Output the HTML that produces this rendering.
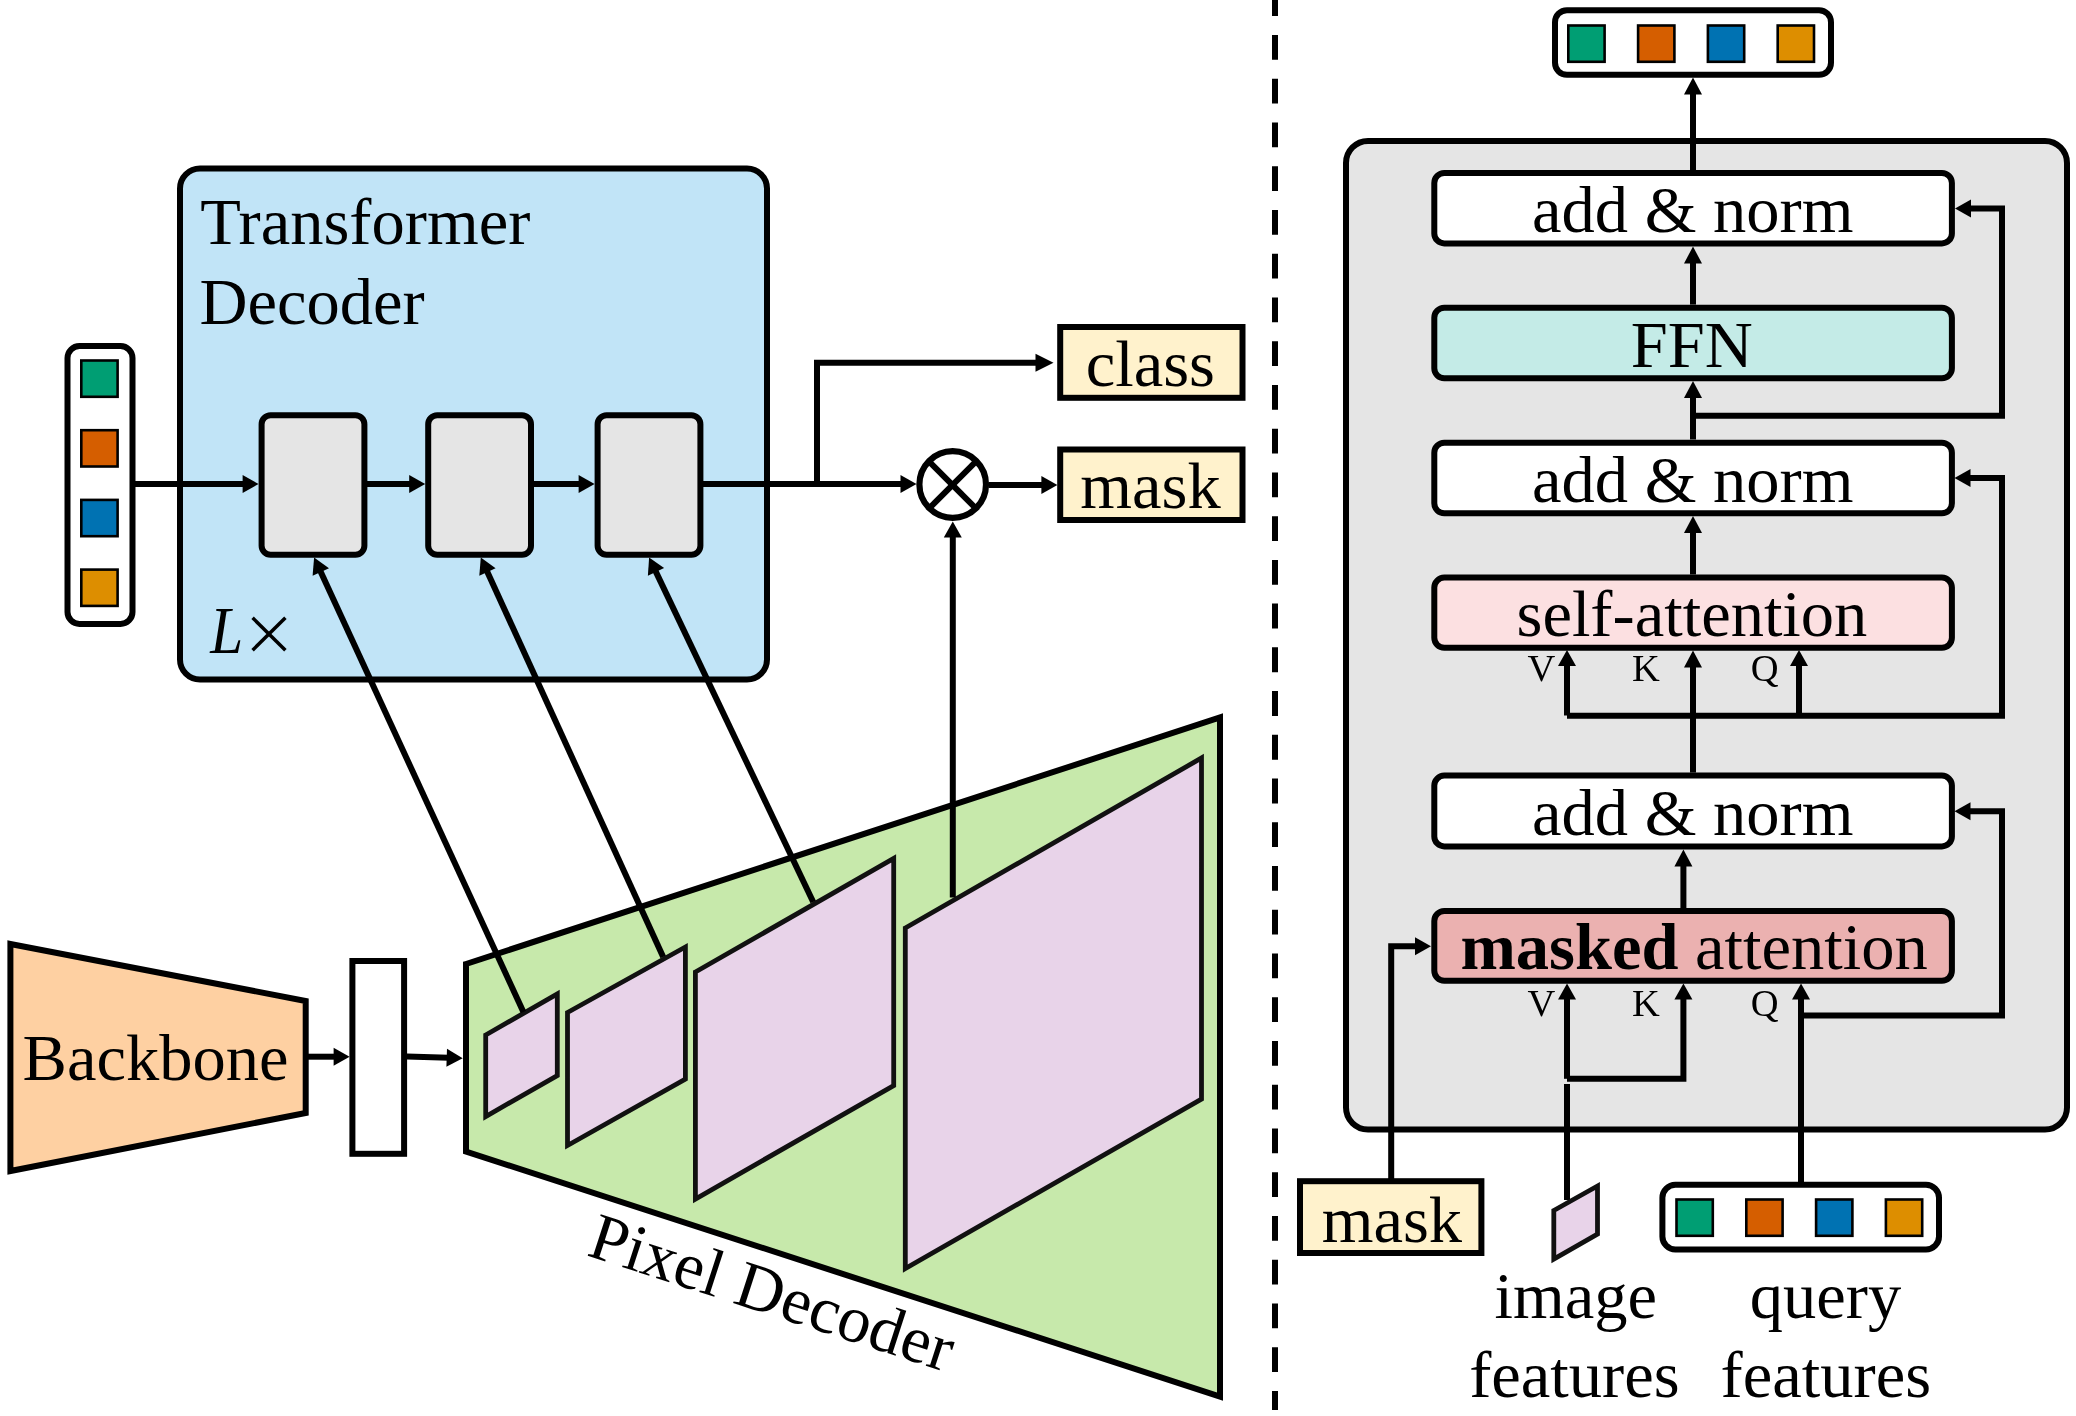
<!DOCTYPE html>
<html><head><meta charset="utf-8"><title>Mask2Former</title>
<style>
html,body{margin:0;padding:0;background:#fff;}
svg{display:block;will-change:transform;}
.t{font-family:"Liberation Serif",serif;font-size:66.5px;fill:#000;}
.s{font-family:"Liberation Serif",serif;font-size:38.5px;fill:#000;}
</style></head><body>
<svg width="2076" height="1416" viewBox="0 0 2076 1416">
<rect width="2076" height="1416" fill="#fff"/>
<rect x="180" y="168.5" width="587" height="511" rx="20" fill="#C1E4F7" stroke="#000" stroke-width="6"/>
<text x="200.3" y="244.2" class="t">Transformer</text>
<text x="199.5" y="323.9" class="t">Decoder</text>
<text transform="translate(210.3,653) scale(0.89,1.02)" class="t" font-style="italic">L</text>
<line x1="252.6" y1="617.8" x2="285.4" y2="650.2" stroke="#000" stroke-width="3.5" />
<line x1="285.4" y1="617.8" x2="252.6" y2="650.2" stroke="#000" stroke-width="3.5" />
<rect x="67.5" y="346" width="65" height="278" rx="12" fill="#fff" stroke="#000" stroke-width="6"/>
<rect x="81.3" y="360.5" width="36.3" height="36.3" rx="0" fill="#009E73" stroke="#000" stroke-width="2.6"/>
<rect x="81.3" y="430.2" width="36.3" height="36.3" rx="0" fill="#D55E00" stroke="#000" stroke-width="2.6"/>
<rect x="81.3" y="499.9" width="36.3" height="36.3" rx="0" fill="#0072B2" stroke="#000" stroke-width="2.6"/>
<rect x="81.3" y="569.6" width="36.3" height="36.3" rx="0" fill="#DD8E00" stroke="#000" stroke-width="2.6"/>
<rect x="261.6" y="415.2" width="102.8" height="139.6" rx="9" fill="#E5E5E5" stroke="#000" stroke-width="6"/>
<rect x="428.2" y="415.2" width="102.8" height="139.6" rx="9" fill="#E5E5E5" stroke="#000" stroke-width="6"/>
<rect x="597.6" y="415.2" width="102.8" height="139.6" rx="9" fill="#E5E5E5" stroke="#000" stroke-width="6"/>
<path d="M132.5 484.0 L244.6 484.0" fill="none" stroke="#000" stroke-width="6" stroke-linejoin="miter" /><polygon points="258.6,484.0 242.6,493.0 242.6,475.0" fill="#000"/>
<path d="M364.4 484.0 L411.2 484.0" fill="none" stroke="#000" stroke-width="6" stroke-linejoin="miter" /><polygon points="425.2,484.0 409.2,493.0 409.2,475.0" fill="#000"/>
<path d="M531.2 484.0 L580.6 484.0" fill="none" stroke="#000" stroke-width="6" stroke-linejoin="miter" /><polygon points="594.6,484.0 578.6,493.0 578.6,475.0" fill="#000"/>
<path d="M700.4 484.0 L902.5 484.0" fill="none" stroke="#000" stroke-width="6" stroke-linejoin="miter" /><polygon points="916.5,484.0 900.5,493.0 900.5,475.0" fill="#000"/>
<path d="M817.0 484.0 L817.0 362.7 L1037.5 362.7" fill="none" stroke="#000" stroke-width="6" stroke-linejoin="miter" /><polygon points="1053.5,362.7 1035.5,371.7 1035.5,353.7" fill="#000"/>
<path d="M988.5 485.0 L1043.4 485.0" fill="none" stroke="#000" stroke-width="6" stroke-linejoin="miter" /><polygon points="1057.4,485.0 1041.4,494.0 1041.4,476.0" fill="#000"/>
<circle cx="952.7" cy="484.5" r="33.3" fill="#fff" stroke="#000" stroke-width="6.2"/>
<line x1="929.165476220844" y1="461.6654762208439" x2="975.834523779156" y2="508.3345237791561" stroke="#000" stroke-width="6" />
<line x1="975.834523779156" y1="461.6654762208439" x2="929.165476220844" y2="508.3345237791561" stroke="#000" stroke-width="6" />
<rect x="1060.2" y="327" width="182.3" height="70.8" rx="0" fill="#FFF2CC" stroke="#000" stroke-width="6"/>
<rect x="1060.2" y="449.5" width="182.3" height="70.5" rx="0" fill="#FFF2CC" stroke="#000" stroke-width="6"/>
<text x="1085.7" y="386.3" class="t">class</text>
<text x="1080.3" y="508.2" class="t">mask</text>
<polygon points="10.4,944.0 305.7,1001.0 305.7,1113.0 10.4,1171.0" fill="#FED0A2" stroke="#000" stroke-width="6" stroke-linejoin="miter"/>
<text x="22.6" y="1080.3" class="t">Backbone</text>
<path d="M305.7 1056.7 L335.6 1056.7" fill="none" stroke="#000" stroke-width="6" stroke-linejoin="miter" /><polygon points="349.6,1056.7 333.6,1065.7 333.6,1047.7" fill="#000"/>
<rect x="352.4" y="961" width="51.7" height="192.8" rx="0" fill="#fff" stroke="#000" stroke-width="6"/>
<path d="M406.9 1056.5 L448.7 1057.8" fill="none" stroke="#000" stroke-width="6" stroke-linejoin="miter" /><polygon points="462.7,1058.3 446.4,1066.8 447.0,1048.8" fill="#000"/>
<polygon points="466.0,964.0 1220.0,717.5 1220.0,1396.5 466.0,1151.5" fill="#C7E9AB" stroke="#000" stroke-width="6" stroke-linejoin="miter"/>
<text class="t" transform="translate(585.5,1255) rotate(18)">Pixel Decoder</text>
<polygon points="485.7,1035.0 557.3,994.0 557.3,1075.5 485.7,1116.5" fill="#E8D3E9" stroke="#111" stroke-width="4.8" stroke-linejoin="miter"/>
<polygon points="567.5,1012.5 685.4,947.0 685.4,1079.0 567.5,1145.5" fill="#E8D3E9" stroke="#111" stroke-width="4.8" stroke-linejoin="miter"/>
<polygon points="695.4,972.0 893.7,858.5 893.7,1085.5 695.4,1199.0" fill="#E8D3E9" stroke="#111" stroke-width="4.8" stroke-linejoin="miter"/>
<polygon points="905.3,928.0 1201.5,758.0 1201.5,1099.0 905.3,1268.5" fill="#E8D3E9" stroke="#111" stroke-width="4.8" stroke-linejoin="miter"/>
<path d="M523.4 1012.0 L320.0 570.2" fill="none" stroke="#000" stroke-width="6" stroke-linejoin="miter" /><polygon points="314.1,557.5 329.0,568.3 312.6,575.8" fill="#000"/>
<path d="M663.2 957.0 L486.6 570.2" fill="none" stroke="#000" stroke-width="6" stroke-linejoin="miter" /><polygon points="480.8,557.5 495.6,568.3 479.3,575.8" fill="#000"/>
<path d="M813.2 902.0 L655.1 570.1" fill="none" stroke="#000" stroke-width="6" stroke-linejoin="miter" /><polygon points="649.1,557.5 664.1,568.1 647.9,575.8" fill="#000"/>
<path d="M952.8 897.5 L952.8 535.4" fill="none" stroke="#000" stroke-width="6" stroke-linejoin="miter" /><polygon points="952.8,521.4 961.8,537.4 943.8,537.4" fill="#000"/>
<line x1="1275" y1="0" x2="1275" y2="1410" stroke="#000" stroke-width="6" stroke-dasharray="24.8 18.94" stroke-dashoffset="8.74"/>
<rect x="1346" y="141" width="721" height="988.6" rx="22" fill="#E5E5E5" stroke="#000" stroke-width="6"/>
<rect x="1555" y="10.2" width="276" height="64.6" rx="12" fill="#fff" stroke="#000" stroke-width="6"/>
<rect x="1568.3" y="25.5" width="36.3" height="36.3" rx="0" fill="#009E73" stroke="#000" stroke-width="2.6"/>
<rect x="1638.1" y="25.5" width="36.3" height="36.3" rx="0" fill="#D55E00" stroke="#000" stroke-width="2.6"/>
<rect x="1707.8999999999999" y="25.5" width="36.3" height="36.3" rx="0" fill="#0072B2" stroke="#000" stroke-width="2.6"/>
<rect x="1777.6999999999998" y="25.5" width="36.3" height="36.3" rx="0" fill="#DD8E00" stroke="#000" stroke-width="2.6"/>
<path d="M1693.0 170.0 L1693.0 92.5" fill="none" stroke="#000" stroke-width="6" stroke-linejoin="miter" /><polygon points="1693.0,77.5 1702.0,94.5 1684.0,94.5" fill="#000"/>
<rect x="1434.3" y="172.9" width="517.6" height="70.5" rx="10" fill="#fff" stroke="#000" stroke-width="6"/>
<rect x="1434.3" y="307.8" width="517.6" height="70.5" rx="10" fill="#C4EBE7" stroke="#000" stroke-width="6"/>
<rect x="1434.3" y="442.7" width="517.6" height="70.5" rx="10" fill="#fff" stroke="#000" stroke-width="6"/>
<rect x="1434.3" y="577.6" width="517.6" height="70.2" rx="10" fill="#FCE0E1" stroke="#000" stroke-width="6"/>
<rect x="1434.3" y="775.6" width="517.6" height="70.8" rx="10" fill="#fff" stroke="#000" stroke-width="6"/>
<rect x="1434.3" y="910.9" width="517.6" height="69.8" rx="10" fill="#EBB1B0" stroke="#000" stroke-width="6"/>
<text x="1532" y="232.2" class="t">add &amp; norm</text>
<text x="1630.7" y="367.3" class="t">FFN</text>
<text x="1532" y="501.7" class="t">add &amp; norm</text>
<text x="1516.5" y="635.8" class="t">self-attention</text>
<text x="1532" y="835" class="t">add &amp; norm</text>
<text x="1460.4" y="969.3" class="t"><tspan font-weight="bold">masked</tspan> attention</text>
<path d="M1693.0 304.6 L1693.0 261.5" fill="none" stroke="#000" stroke-width="6" stroke-linejoin="miter" /><polygon points="1693.0,246.5 1702.0,263.5 1684.0,263.5" fill="#000"/>
<path d="M1693.0 439.5 L1693.0 396.0" fill="none" stroke="#000" stroke-width="6" stroke-linejoin="miter" /><polygon points="1693.0,381.0 1702.0,398.0 1684.0,398.0" fill="#000"/>
<path d="M1693.0 574.5 L1693.0 531.0" fill="none" stroke="#000" stroke-width="6" stroke-linejoin="miter" /><polygon points="1693.0,516.0 1702.0,533.0 1684.0,533.0" fill="#000"/>
<path d="M1693.0 772.6 L1693.0 665.5" fill="none" stroke="#000" stroke-width="6" stroke-linejoin="miter" /><polygon points="1693.0,650.5 1702.0,667.5 1684.0,667.5" fill="#000"/>
<path d="M1683.4 908.0 L1683.4 864.5" fill="none" stroke="#000" stroke-width="6" stroke-linejoin="miter" /><polygon points="1683.4,849.5 1692.4,866.5 1674.4,866.5" fill="#000"/>
<path d="M1693.0 415.8 L2002.0 415.8 L2002.0 208.4 L1969.0 208.4" fill="none" stroke="#000" stroke-width="6" stroke-linejoin="miter" /><polygon points="1955.0,208.4 1971.0,199.4 1971.0,217.4" fill="#000"/>
<path d="M1567.0 715.7 L2002.0 715.7 L2002.0 477.9 L1968.5 477.9" fill="none" stroke="#000" stroke-width="6" stroke-linejoin="miter" /><polygon points="1954.5,477.9 1970.5,468.9 1970.5,486.9" fill="#000"/>
<path d="M1801.0 1015.6 L2002.0 1015.6 L2002.0 811.2 L1968.5 811.2" fill="none" stroke="#000" stroke-width="6" stroke-linejoin="miter" /><polygon points="1954.5,811.2 1970.5,802.2 1970.5,820.2" fill="#000"/>
<path d="M1567.0 715.5 L1567.0 664.0" fill="none" stroke="#000" stroke-width="6" stroke-linejoin="miter" /><polygon points="1567.0,650.0 1576.0,666.0 1558.0,666.0" fill="#000"/>
<path d="M1799.0 715.5 L1799.0 664.0" fill="none" stroke="#000" stroke-width="6" stroke-linejoin="miter" /><polygon points="1799.0,650.0 1808.0,666.0 1790.0,666.0" fill="#000"/>
<path d="M1567.0 1078.8 L1567.0 997.5" fill="none" stroke="#000" stroke-width="6" stroke-linejoin="miter" /><polygon points="1567.0,983.5 1576.0,999.5 1558.0,999.5" fill="#000"/>
<path d="M1567.0 1078.8 L1683.4 1078.8 L1683.4 997.5" fill="none" stroke="#000" stroke-width="6" stroke-linejoin="miter" /><polygon points="1683.4,983.5 1692.4,999.5 1674.4,999.5" fill="#000"/>
<line x1="1567" y1="1084" x2="1567" y2="1200" stroke="#000" stroke-width="6" />
<path d="M1801.0 1184.0 L1801.0 997.5" fill="none" stroke="#000" stroke-width="6" stroke-linejoin="miter" /><polygon points="1801.0,983.5 1810.0,999.5 1792.0,999.5" fill="#000"/>
<path d="M1391.2 1180.0 L1391.2 946.3 L1417.0 946.3" fill="none" stroke="#000" stroke-width="6" stroke-linejoin="miter" /><polygon points="1431.0,946.3 1415.0,955.3 1415.0,937.3" fill="#000"/>
<text x="1527.6" y="681" class="s">V</text>
<text x="1632" y="681" class="s">K</text>
<text x="1750.7" y="681" class="s">Q</text>
<text x="1527.6" y="1016.3" class="s">V</text>
<text x="1632" y="1016.3" class="s">K</text>
<text x="1750.7" y="1016.3" class="s">Q</text>
<rect x="1300" y="1181.2" width="181.4" height="71.8" rx="0" fill="#FFF2CC" stroke="#000" stroke-width="6"/>
<text x="1321.7" y="1241.9" class="t">mask</text>
<polygon points="1553.8,1210.5 1597.5,1186.0 1597.5,1234.0 1553.8,1259.0" fill="#E8D3E9" stroke="#111" stroke-width="4.8" stroke-linejoin="miter"/>
<rect x="1662.4" y="1184.7" width="276.6" height="64.8" rx="13" fill="#fff" stroke="#000" stroke-width="6"/>
<rect x="1676.5" y="1199.5" width="36.3" height="36.3" rx="0" fill="#009E73" stroke="#000" stroke-width="2.6"/>
<rect x="1746.3" y="1199.5" width="36.3" height="36.3" rx="0" fill="#D55E00" stroke="#000" stroke-width="2.6"/>
<rect x="1816.1" y="1199.5" width="36.3" height="36.3" rx="0" fill="#0072B2" stroke="#000" stroke-width="2.6"/>
<rect x="1885.9" y="1199.5" width="36.3" height="36.3" rx="0" fill="#DD8E00" stroke="#000" stroke-width="2.6"/>
<text x="1494.6" y="1318" class="t">image</text>
<text x="1469.2" y="1397.3" class="t">features</text>
<text x="1749.8" y="1318" class="t">query</text>
<text x="1720.6" y="1397.3" class="t">features</text>
</svg>
</body></html>
